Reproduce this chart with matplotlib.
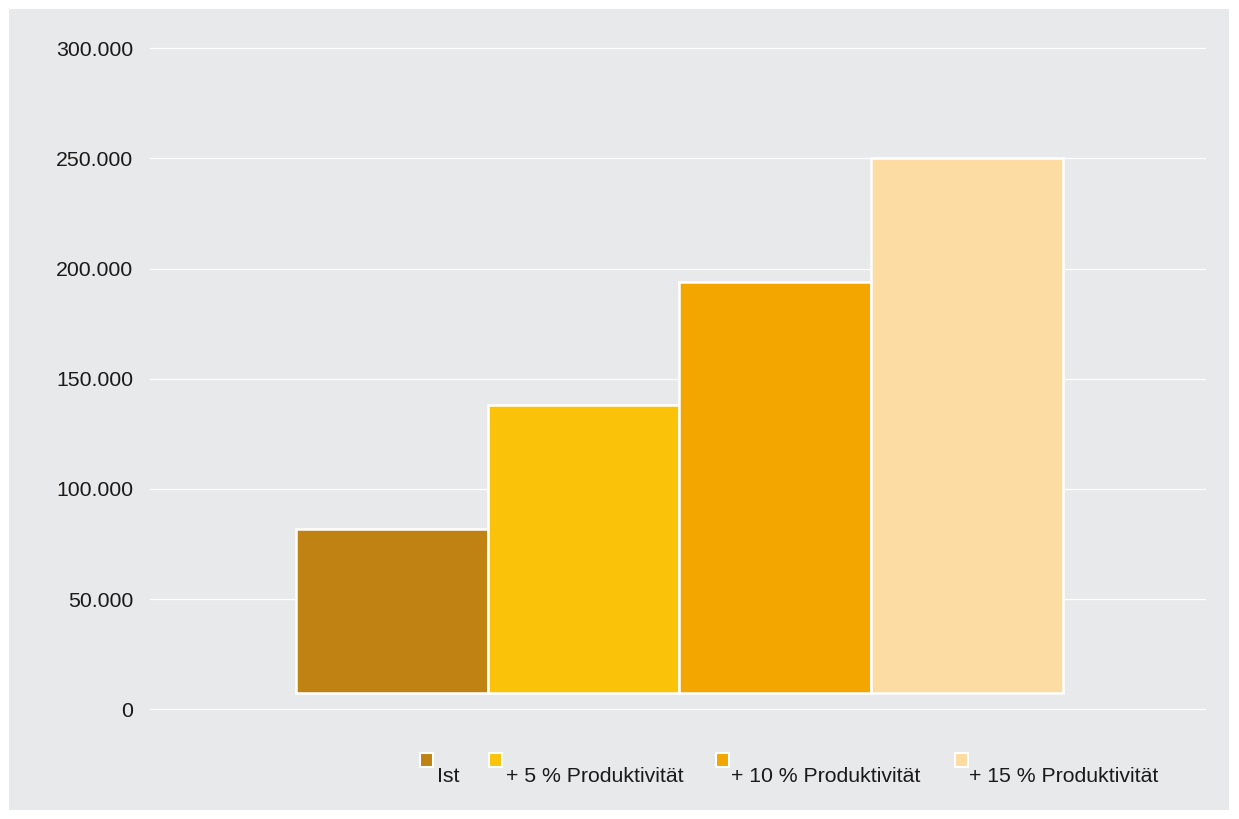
import matplotlib
matplotlib.use("Agg")
import matplotlib.pyplot as plt
from matplotlib.patches import Rectangle

categories = ["Ist", "+ 5 % Produktivität", "+ 10 % Produktivität", "+ 15 % Produktivität"]
values = [82000, 138000, 194000, 250000]
bar_base = 7500
colors = ["#BF8213", "#FAC30A", "#F4A600", "#FCDCA3"]
yticks = [0, 50000, 100000, 150000, 200000, 250000, 300000]
ytick_labels = ["0", "50.000", "100.000", "150.000", "200.000", "250.000", "300.000"]

W, H = 1239, 819
plt.rcParams['font.family'] = ['Liberation Sans', 'DejaVu Sans']
fig = plt.figure(figsize=(W / 100, H / 100), dpi=100, facecolor="white")
bg = "#E8E9EB"
fig.patches.append(Rectangle((9 / W, 9 / H), (1229 - 9) / W, (810 - 9) / H,
                             transform=fig.transFigure, facecolor=bg, edgecolor="none", zorder=-10))

pad = 1500
ppk = 661.0 / 300000
top_px = 48 - pad * ppk
bot_px = 709.5 + pad * ppk
ax = fig.add_axes([150 / W, 1 - bot_px / H, (1206 - 150) / W, (bot_px - top_px) / H])
ax.set_zorder(1)
ax.set_facecolor("none")
ax.set_ylim(-pad, 300000 + pad)
ax.set_xlim(-1.26, 4.245)

ax.set_yticks(yticks)
ax.set_yticklabels(ytick_labels)
ax.yaxis.grid(True, color="white", linewidth=0.9)
ax.set_axisbelow(True)
ax.tick_params(axis="y", length=0, pad=12, labelsize=15.3, labelcolor="#1a1a1a")
ax.set_xticks([])
for s in ax.spines.values():
    s.set_visible(False)

x = list(range(len(values)))
heights = [v - bar_base for v in values]
ax.bar(x, heights, bottom=bar_base, width=1.0, color=colors, edgecolor="white",
       linewidth=1.8, zorder=3)

# legend
sq_x = [420, 489, 716, 955]
txt_x = [437, 506, 731, 969]
for lab, c, sx, tx in zip(categories, colors, sq_x, txt_x):
    fig.patches.append(Rectangle((sx / W, 1 - 767 / H), 13 / W, 14 / H, transform=fig.transFigure,
                                 facecolor=c, edgecolor="white", linewidth=1.5, zorder=3))
    fig.text(tx / W, 1 - 777 / H, lab, fontsize=15.3, color="#1a1a1a", ha="left", va="center")

fig.savefig("out.png", dpi=100, facecolor="white")
